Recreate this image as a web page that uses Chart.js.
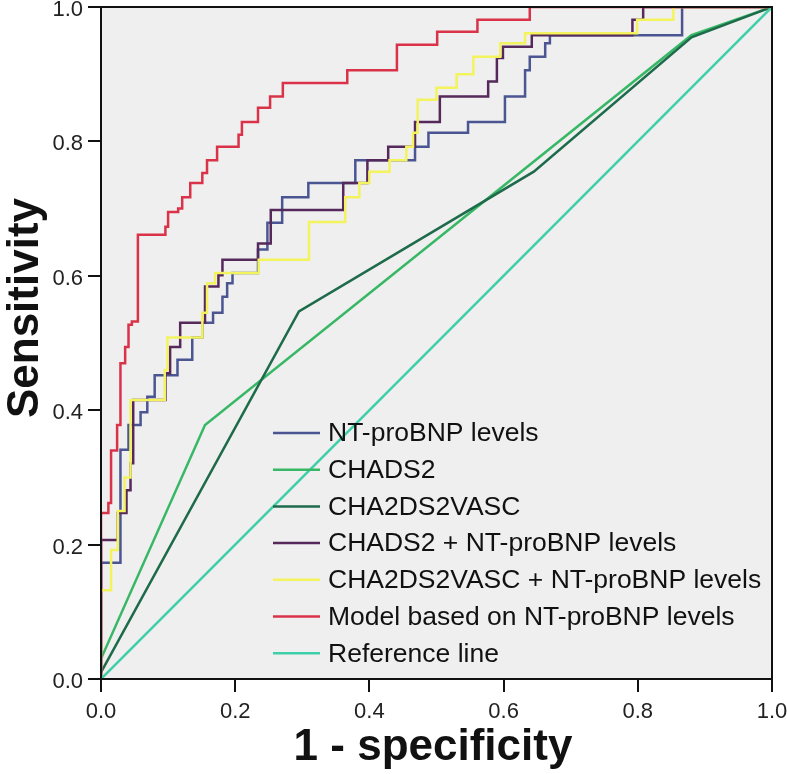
<!DOCTYPE html>
<html>
<head>
    <title>ROC curves</title>
    <script src="https://cdn.jsdelivr.net/npm/chart.js"></script>
    <style>
        body {
            margin: 0;
            background: #ffffff;
            font-family: "Liberation Sans", Arial, sans-serif;
        }
        #wrap {
            width: 787px;
            height: 774px;
            position: relative;
        }
    </style>
</head>
<body>
    <div id="wrap"><canvas id="rocChart"></canvas></div>

    <script>
        // values: 1 - specificity (x) and sensitivity (y)
        const ntX = [0, 0, 0.029, 0.041, 0.059, 0.069, 0.08, 0.114, 0.136, 0.151, 0.167, 0.181, 0.188, 0.196, 0.234, 0.248, 0.27, 0.309, 0.379, 0.468, 0.488, 0.547, 0.602, 0.632, 0.639, 0.662, 0.669, 0.866, 1];
        const ntY = [0, 0.173, 0.341, 0.378, 0.397, 0.42, 0.452, 0.475, 0.508, 0.53, 0.545, 0.569, 0.589, 0.604, 0.639, 0.679, 0.717, 0.738, 0.772, 0.792, 0.813, 0.829, 0.867, 0.906, 0.926, 0.946, 0.958, 1, 1];

        const chadsX = [0, 0.155, 0.88, 1];
        const chadsY = [0.03, 0.378, 0.958, 1];

        const cha2X = [0, 0.295, 0.645, 0.88, 1];
        const cha2Y = [0.01, 0.547, 0.755, 0.955, 1];

        const chadsNtX = [0, 0, 0.025, 0.038, 0.044, 0.048, 0.096, 0.103, 0.118, 0.155, 0.175, 0.181, 0.234, 0.253, 0.361, 0.397, 0.428, 0.468, 0.505, 0.577, 0.59, 0.599, 0.642, 0.792, 0.808, 1];
        const chadsNtY = [0, 0.207, 0.247, 0.281, 0.321, 0.415, 0.455, 0.494, 0.53, 0.584, 0.601, 0.624, 0.648, 0.698, 0.738, 0.772, 0.792, 0.829, 0.867, 0.889, 0.924, 0.941, 0.958, 0.981, 1, 1];

        const cha2NtX = [0, 0, 0.015, 0.025, 0.035, 0.044, 0.095, 0.099, 0.151, 0.158, 0.17, 0.235, 0.31, 0.364, 0.385, 0.4, 0.43, 0.455, 0.465, 0.472, 0.5, 0.53, 0.555, 0.595, 0.632, 0.799, 0.853, 1];
        const cha2NtY = [0, 0.132, 0.192, 0.25, 0.3, 0.415, 0.46, 0.508, 0.545, 0.589, 0.604, 0.624, 0.68, 0.717, 0.738, 0.755, 0.772, 0.792, 0.813, 0.862, 0.88, 0.9, 0.926, 0.946, 0.961, 0.981, 1, 1];

        const modelX = [0, 0, 0.011, 0.015, 0.024, 0.029, 0.036, 0.041, 0.046, 0.055, 0.096, 0.1, 0.115, 0.121, 0.133, 0.151, 0.158, 0.173, 0.205, 0.21, 0.234, 0.252, 0.271, 0.367, 0.441, 0.501, 0.561, 0.639, 1];
        const modelY = [0, 0.247, 0.262, 0.34, 0.378, 0.47, 0.494, 0.527, 0.532, 0.661, 0.673, 0.695, 0.70, 0.717, 0.738, 0.753, 0.772, 0.792, 0.81, 0.829, 0.85, 0.867, 0.887, 0.906, 0.944, 0.963, 0.981, 1, 1];

        const refX = [0, 1];
        const refY = [0, 1];

        const tickValues = [0, 0.2, 0.4, 0.6, 0.8, 1.0];

        function pts(xs, ys) {
            return xs.map((x, i) => ({ x: x, y: ys[i] }));
        }

        const series = [
            { label: 'NT-proBNP levels', data: pts(ntX, ntY), color: '#4a5592', stepped: 'before' },
            { label: 'CHADS2', data: pts(chadsX, chadsY), color: '#38b866', stepped: false },
            { label: 'CHA2DS2VASC', data: pts(cha2X, cha2Y), color: '#1d6b4b', stepped: false },
            { label: 'CHADS2 + NT-proBNP levels', data: pts(chadsNtX, chadsNtY), color: '#56295b', stepped: 'before' },
            { label: 'CHA2DS2VASC + NT-proBNP levels', data: pts(cha2NtX, cha2NtY), color: '#f3f35e', stepped: 'before' },
            { label: 'Model based on NT-proBNP levels', data: pts(modelX, modelY), color: '#da3349', stepped: 'before' },
            { label: 'Reference line', data: pts(refX, refY), color: '#3ecfa9', stepped: false }
        ];

        // grey plot background, frame, legend and axis titles
        const frame = {
            id: 'frame',
            beforeDatasetsDraw(chart) {
                const a = chart.chartArea, ctx = chart.ctx;
                ctx.save();
                ctx.fillStyle = '#efefef';
                ctx.fillRect(a.left, a.top, a.right - a.left, a.bottom - a.top);
                ctx.restore();
            },
            afterDraw(chart) {
                const a = chart.chartArea, ctx = chart.ctx;
                ctx.save();
                ctx.strokeStyle = '#111';
                ctx.lineWidth = 2;
                ctx.strokeRect(a.left, a.top, a.right - a.left, a.bottom - a.top);

                // legend inside the plot
                ctx.font = '26.5px "Liberation Sans", Arial, sans-serif';
                ctx.textBaseline = 'middle';
                ctx.fillStyle = '#111';
                chart.data.datasets.forEach((ds, i) => {
                    const y = 433 + i * 36.7;
                    ctx.strokeStyle = ds.borderColor;
                    ctx.lineWidth = 2.5;
                    ctx.beginPath();
                    ctx.moveTo(273, y);
                    ctx.lineTo(320, y);
                    ctx.stroke();
                    ctx.fillText(ds.label, 328, y + 1);
                });

                // axis titles
                ctx.font = 'bold 44px "Liberation Sans", Arial, sans-serif';
                ctx.textAlign = 'center';
                ctx.textBaseline = 'alphabetic';
                ctx.fillText('1 - specificity', 433, 760);
                ctx.translate(38, 308);
                ctx.rotate(-Math.PI / 2);
                ctx.fillText('Sensitivity', 0, 0);
                ctx.restore();
            }
        };

        const axisCommon = {
            type: 'linear',
            min: 0,
            max: 1,
            afterBuildTicks(scale) {
                scale.ticks = tickValues.map(v => ({ value: v }));
            },
            ticks: {
                callback: v => v.toFixed(1),
                color: '#222',
                font: { size: 22, family: '"Liberation Sans", Arial, sans-serif' }
            },
            grid: {
                drawOnChartArea: false,
                drawTicks: true,
                tickLength: 13,
                color: '#111',
                lineWidth: 2
            },
            border: { display: true, color: '#111', width: 2 }
        };

        new Chart(document.getElementById('rocChart'), {
            type: 'scatter',
            data: {
                datasets: series.map((s, i) => ({
                    label: s.label,
                    data: s.data,
                    showLine: true,
                    stepped: s.stepped,
                    borderColor: s.color,
                    backgroundColor: s.color,
                    borderWidth: 2.5,
                    pointRadius: 0,
                    fill: false,
                    order: series.length - i
                }))
            },
            options: {
                responsive: true,
                maintainAspectRatio: false,
                animation: false,
                layout: { padding: { left: 1, right: 15, top: 7, bottom: 0 } },
                plugins: {
                    legend: { display: false },
                    tooltip: { enabled: false }
                },
                scales: {
                    x: Object.assign({}, axisCommon, {
                        position: 'bottom',
                        ticks: Object.assign({}, axisCommon.ticks, { padding: 7, maxRotation: 0 }),
                        afterFit(scale) {
                            scale.height = 95;
                            scale.paddingLeft = 0;
                            scale.paddingRight = 0;
                        }
                    }),
                    y: Object.assign({}, axisCommon, {
                        position: 'left',
                        ticks: Object.assign({}, axisCommon.ticks, { padding: 5, labelOffset: 3 }),
                        afterFit(scale) {
                            scale.width = 100;
                            scale.paddingTop = 0;
                            scale.paddingBottom = 0;
                        }
                    })
                }
            },
            plugins: [frame]
        });
    </script>
</body>
</html>
